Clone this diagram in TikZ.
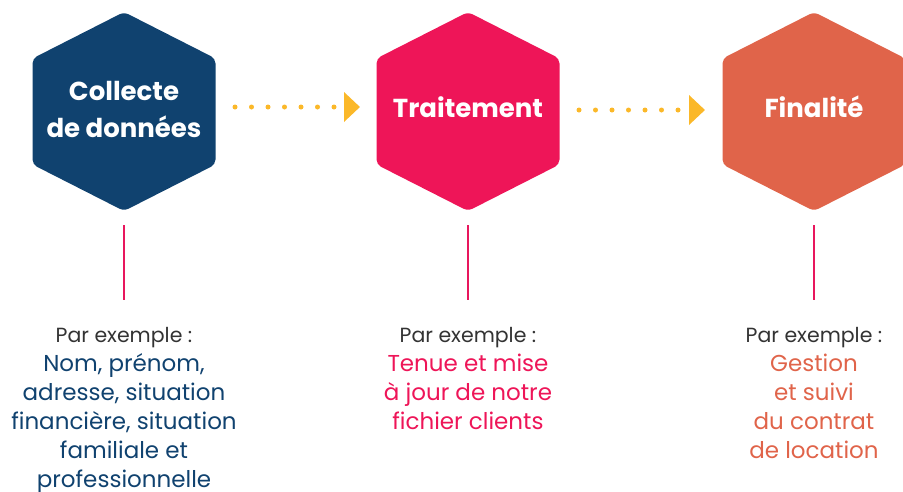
\documentclass[tikz,border=0pt]{standalone}
\usepackage{fontspec}
\setmainfont{Poppins}
\usetikzlibrary{arrows.meta}
\definecolor{navy}{HTML}{10426F}
\definecolor{pinkc}{HTML}{EE1558}
\definecolor{orangec}{HTML}{E0644A}
\definecolor{yellowc}{HTML}{FBB829}
\definecolor{greyt}{HTML}{333333}
\definecolor{linec}{HTML}{E8175D}
\begin{document}
\begin{tikzpicture}[x=1pt,y=-1pt,
  hexa/.style={rounded corners=5pt},
  title/.style={text=white,font=\bfseries\fontsize{26}{37}\selectfont,align=center},
  desc/.style={align=center,anchor=north,font=\fontsize{23}{29}\selectfont},
  flow/.style={yellowc,line width=5pt,line cap=round,dash pattern=on 0pt off 16.5pt,
     -{Triangle[length=16pt,width=29pt]}},
  stem/.style={linec,line width=2pt}]
\useasboundingbox (0,0) rectangle (903,491);
% hexagons
\fill[navy,hexa] (124,12) -- (215.5,58.5) -- (215.5,164.5) -- (124,211) -- (32.5,164.5) -- (32.5,58.5) -- cycle;
\fill[pinkc,hexa] (468,12) -- (559.5,58.5) -- (559.5,164.5) -- (468,211) -- (376.5,164.5) -- (376.5,58.5) -- cycle;
\fill[orangec,hexa] (814,12) -- (905.5,58.5) -- (905.5,164.5) -- (814,211) -- (722.5,164.5) -- (722.5,58.5) -- cycle;
\node[title] (h1) at (124,109) {Collecte\\de données};
\node[title] (h2) at (468,107) {Traitement};
\node[title] (h3) at (814,107) {Finalité};
% arrows
\coordinate (a1s) at (235,107);
\coordinate (a1e) at (360,107);
\coordinate (a2s) at (579,110);
\coordinate (a2e) at (705,110);
\draw[flow] (a1s) -- (a1e);
\draw[flow] (a2s) -- (a2e);
% stems
\coordinate (s1t) at (124,225); \coordinate (s1b) at (124,300);
\coordinate (s2t) at (468,225); \coordinate (s2b) at (468,300);
\coordinate (s3t) at (814,225); \coordinate (s3b) at (814,300);
\draw[stem] (s1t) -- (s1b);
\draw[stem] (s2t) -- (s2b);
\draw[stem] (s3t) -- (s3b);
% descriptions
\node[desc,text=navy] (d1) at (124,324) {{\color{greyt}\fontsize{20.5}{29}\selectfont Par exemple :}\\Nom, prénom,\\adresse, situation\\financière, situation\\familiale et\\professionnelle};
\node[desc,text=pinkc] (d2) at (468,324) {{\color{greyt}\fontsize{20.5}{29}\selectfont Par exemple :}\\Tenue et mise\\à jour de notre\\fichier clients};
\node[desc,text=orangec] (d3) at (814,324) {{\color{greyt}\fontsize{20.5}{29}\selectfont Par exemple :}\\Gestion\\et suivi\\du contrat\\de location};
\end{tikzpicture}
\end{document}
